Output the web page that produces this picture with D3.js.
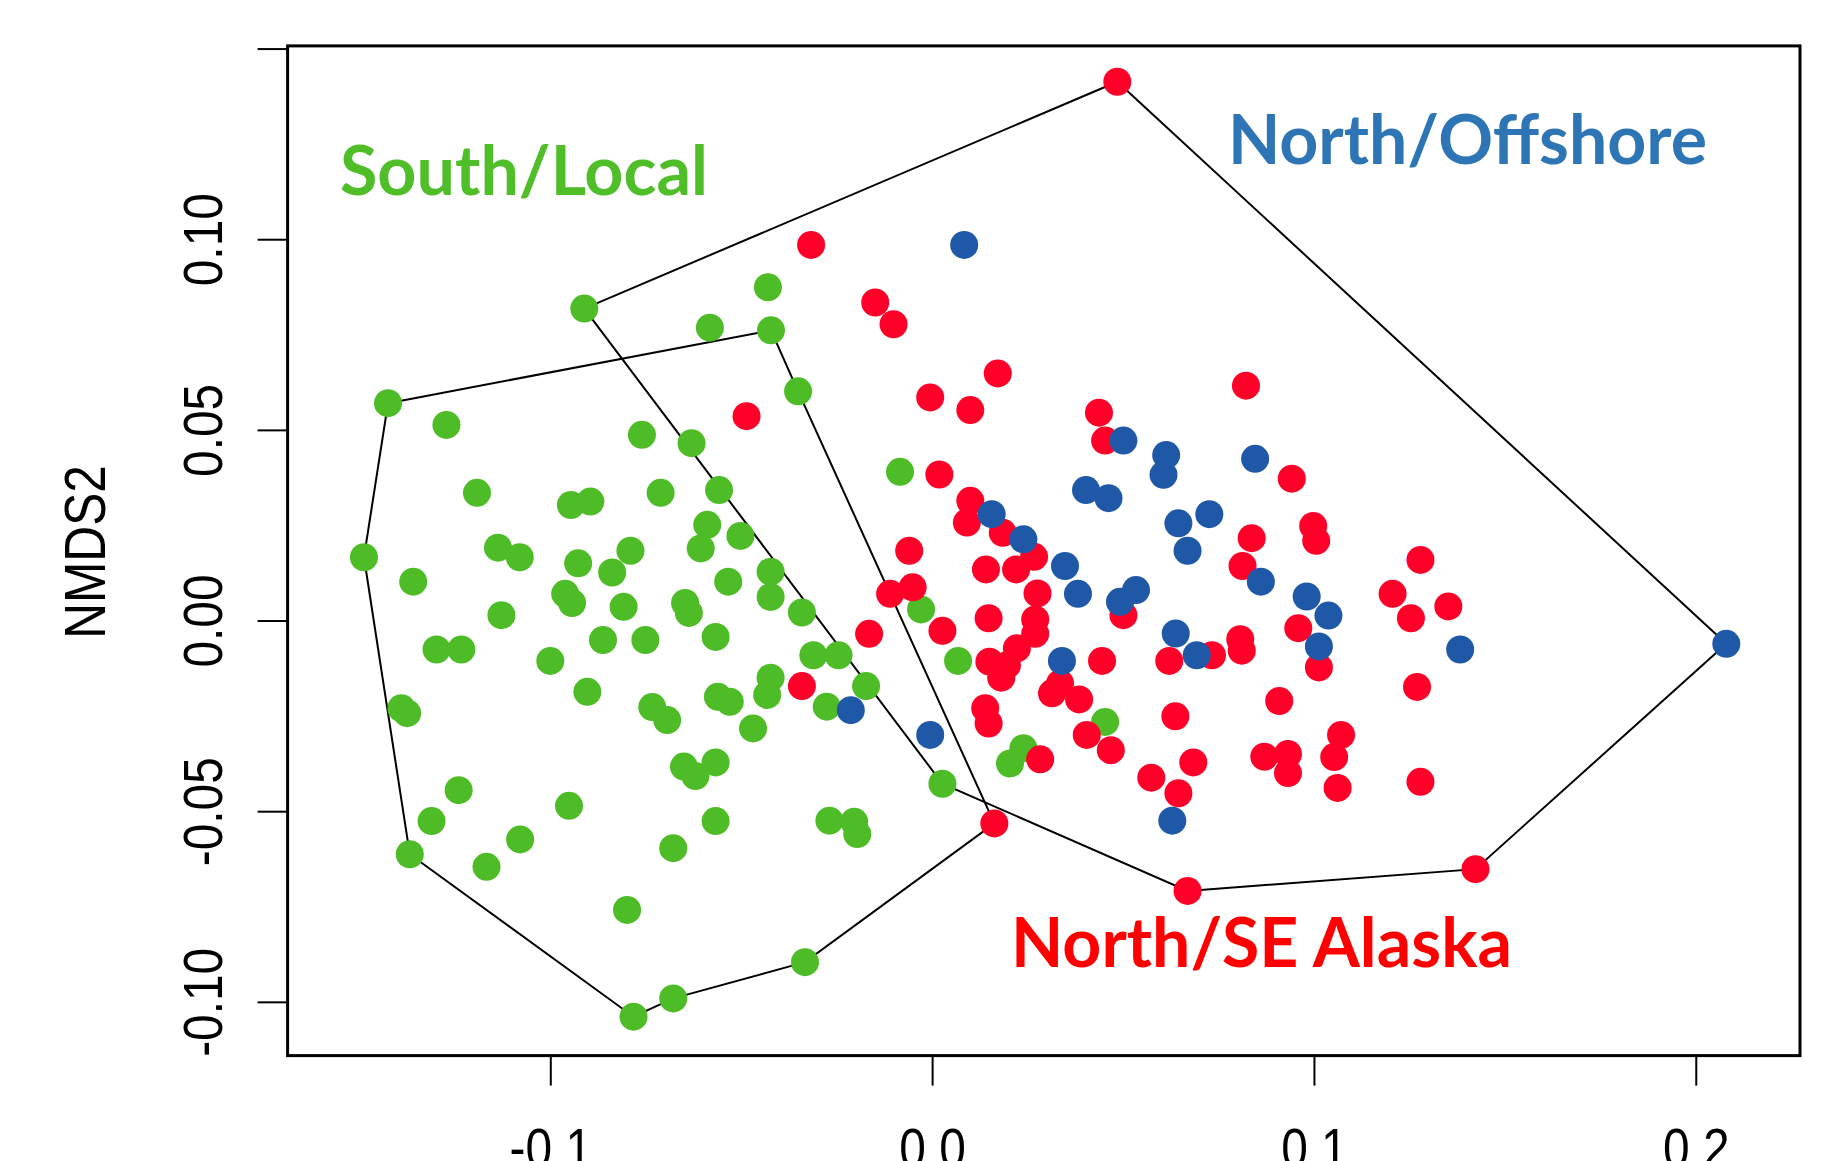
<!DOCTYPE html>
<html>
<head>
<meta charset="utf-8">
<script src="https://cdn.jsdelivr.net/npm/d3@7"></script>
<style>
  html, body { margin: 0; padding: 0; background: #fff; overflow: hidden; }
  svg { display: block; }
</style>
</head>
<body>
<svg id="chart" width="1845" height="1161"></svg>
<script>
// NMDS ordination scores (NMDS1, NMDS2) for each sample, by region
const southLocalX = [-0.0430,-0.0911,-0.0582,-0.0422,-0.1425,-0.0351,-0.1272,-0.0760,-0.0630,-0.1192,
  -0.0946,-0.0895,-0.0711,-0.0558,-0.0589,-0.0502,-0.0606,-0.1137,-0.1080,-0.1488,
  -0.0927,-0.0790,-0.0838,-0.0423,-0.0534,-0.1359,-0.0423,-0.0961,-0.0943,-0.0808,
  -0.0647,-0.0637,-0.1128,-0.0341,-0.0862,-0.0751,-0.0567,-0.1298,-0.1233,-0.1000,
  -0.0903,-0.0561,-0.0530,-0.0423,-0.0432,-0.1390,-0.1375,-0.0733,-0.0694,-0.0469,
  -0.1240,-0.0951,-0.1311,-0.0650,-0.0620,-0.0567,-0.0567,-0.1079,-0.1368,-0.0678,
  -0.1167,-0.0799,-0.0678,-0.0782,-0.0333,-0.0084,-0.0029,-0.0311,-0.0245,0.0068,
  -0.0173,-0.0276,0.0453,0.0204,0.0239,0.0027,-0.0269,-0.0204,-0.0196];
const southLocalY = [0.0874,0.0818,0.0768,0.0761,0.0570,0.0601,0.0513,0.0487,0.0465,0.0335,
  0.0303,0.0312,0.0335,0.0342,0.0251,0.0222,0.0189,0.0191,0.0166,0.0166,
  0.0150,0.0183,0.0126,0.0128,0.0102,0.0102,0.0062,0.0070,0.0046,0.0036,
  0.0046,0.0020,0.0014,0.0021,-0.0051,-0.0051,-0.0043,-0.0076,-0.0076,-0.0106,
  -0.0187,-0.0200,-0.0213,-0.0150,-0.0195,-0.0230,-0.0243,-0.0227,-0.0261,-0.0283,
  -0.0445,-0.0486,-0.0526,-0.0383,-0.0408,-0.0372,-0.0526,-0.0574,-0.0613,-0.0597,
  -0.0646,-0.0759,-0.0991,-0.1039,-0.0896,0.0390,0.0029,-0.0091,-0.0091,-0.0106,
  -0.0172,-0.0226,-0.0266,-0.0375,-0.0335,-0.0428,-0.0525,-0.0528,-0.0560];

const seAlaskaX = [0.0485,-0.0317,-0.0149,-0.0101,0.0172,-0.0005,0.0100,0.0822,-0.0486,0.0437,
  0.0453,0.0942,0.0019,0.0100,0.0091,0.0185,0.0267,0.0837,-0.0060,0.0141,
  0.0220,0.0813,-0.0110,-0.0051,0.0276,0.0501,0.0148,0.0027,0.0270,0.0270,
  -0.0165,0.0222,0.0150,0.0196,0.0181,0.0445,0.0621,0.0733,0.0807,0.0811,
  0.0959,-0.0341,0.0335,0.0314,0.0385,0.0139,0.0148,0.0637,0.0909,0.0405,
  0.0468,0.0283,0.0574,0.0684,0.0645,0.0870,0.0932,0.0932,0.0163,0.0669,
  0.0998,0.1006,0.1279,0.1206,0.1352,0.1254,0.1013,0.1270,0.1071,0.1053,
  0.1062,0.1279,0.1423];
const seAlaskaY = [0.1413,0.0985,0.0834,0.0777,0.0648,0.0585,0.0552,0.0616,0.0536,0.0545,
  0.0472,0.0372,0.0383,0.0314,0.0257,0.0230,0.0167,0.0216,0.0183,0.0134,
  0.0134,0.0143,0.0070,0.0087,0.0071,0.0014,0.0006,-0.0027,0.0003,-0.0035,
  -0.0035,-0.0073,-0.0108,-0.0117,-0.0150,-0.0106,-0.0106,-0.0091,-0.0049,-0.0079,
  -0.0020,-0.0172,-0.0165,-0.0191,-0.0207,-0.0230,-0.0270,-0.0251,-0.0211,-0.0300,
  -0.0340,-0.0364,-0.0412,-0.0372,-0.0453,-0.0357,-0.0350,-0.0400,-0.0532,-0.0709,
  0.0248,0.0209,0.0159,0.0070,0.0037,0.0006,-0.0123,-0.0174,-0.0300,-0.0358,
  -0.0439,-0.0423,-0.0652];

const offshoreX = [0.0084,0.0501,0.0613,0.0606,0.0846,0.0403,0.0462,0.0156,0.0239,0.0645,
  0.0726,0.0669,0.0348,0.0861,0.0981,0.0382,0.0534,0.0492,0.0340,0.0693,
  0.0638,-0.0213,-0.0005,0.0629,0.1038,0.1013,0.1383,0.2080];
const offshoreY = [0.0985,0.0472,0.0434,0.0382,0.0424,0.0342,0.0321,0.0279,0.0213,0.0255,
  0.0279,0.0183,0.0143,0.0102,0.0063,0.0070,0.0080,0.0049,-0.0106,-0.0091,
  -0.0034,-0.0235,-0.0300,-0.0525,0.0013,-0.0068,-0.0076,-0.0061];

// Convex hull outlines (vertex coordinates, in drawing order)
const hullNorthX = [-0.0911, 0.0485, 0.2080, 0.1423, 0.0669, 0.0027];
const hullNorthY = [ 0.0818, 0.1413, -0.0061, -0.0652, -0.0709, -0.0428];
const hullSouthX = [-0.1425, -0.0422, -0.0351, 0.0163, -0.0333, -0.0678, -0.0782, -0.1368, -0.1488];
const hullSouthY = [ 0.0570, 0.0761, 0.0601, -0.0532, -0.0896, -0.0991, -0.1039, -0.0613, 0.0166];

const xTicks = [-0.1, 0.0, 0.1, 0.2];
const yTicks = [0.15, 0.10, 0.05, 0.00, -0.05, -0.10];
const yLabelled = [0.10, 0.05, 0.00, -0.05, -0.10];

const regions = [
  { name: "South/Local",     xs: southLocalX, ys: southLocalY, dot: "#4dbc27", text: "#4fbe29" },
  { name: "North/SE Alaska", xs: seAlaskaX,   ys: seAlaskaY,   dot: "#ff0028", text: "#ff0000" },
  { name: "North/Offshore",  xs: offshoreX,   ys: offshoreY,   dot: "#2058a8", text: "#2e75b6" }
];

const svg = d3.select("#chart");
const plotLeft = 287.6, plotTop = 45.9, plotRight = 1800, plotBottom = 1055.6;

const x = d3.scaleLinear().domain([-0.1688, 0.2273]).range([plotLeft, plotRight]);
const y = d3.scaleLinear().domain([-0.1141, 0.1507]).range([plotBottom, plotTop]);

const axisFont = "'Liberation Sans', Arial, Helvetica, sans-serif";

// Hull outlines
const hullLine = d3.line().x(d => x(d[0])).y(d => y(d[1])).curve(d3.curveLinearClosed);
[[hullNorthX, hullNorthY], [hullSouthX, hullSouthY]].forEach(([hx, hy]) => {
  svg.append("path")
    .datum(hx.map((v, i) => [v, hy[i]]))
    .attr("d", hullLine)
    .attr("fill", "none")
    .attr("stroke", "#000")
    .attr("stroke-width", 2);
});

// Sample points
regions.forEach(r => {
  svg.append("g").selectAll("circle")
    .data(r.xs.map((v, i) => [v, r.ys[i]]))
    .join("circle")
    .attr("cx", d => x(d[0]))
    .attr("cy", d => y(d[1]))
    .attr("r", 14)
    .attr("fill", r.dot);
});

// Plot frame
svg.append("rect")
  .attr("x", plotLeft).attr("y", plotTop)
  .attr("width", plotRight - plotLeft).attr("height", plotBottom - plotTop)
  .attr("fill", "none").attr("stroke", "#000").attr("stroke-width", 3);

// X axis
const gx = svg.append("g").attr("transform", `translate(0,${plotBottom})`)
  .call(d3.axisBottom(x).tickValues(xTicks).tickSize(30).tickSizeOuter(0)
    .tickFormat(d => d.toFixed(1)));
gx.select(".domain").remove();
gx.selectAll(".tick line").attr("stroke", "#000").attr("stroke-width", 2);
gx.selectAll(".tick text")
  .attr("y", 111).attr("dy", null)
  .attr("transform", "scale(0.87,1)")
  .attr("font-family", axisFont).attr("font-size", 55).attr("fill", "#000");

// Y axis
const gy = svg.append("g").attr("transform", `translate(${plotLeft},0)`)
  .call(d3.axisLeft(y).tickValues(yTicks).tickSize(30).tickSizeOuter(0)
    .tickFormat(d => yLabelled.some(v => Math.abs(v - d) < 1e-9) ? d.toFixed(2) : ""));
gy.select(".domain").remove();
gy.selectAll(".tick line").attr("stroke", "#000").attr("stroke-width", 2);
gy.selectAll(".tick text")
  .attr("x", null).attr("dy", null)
  .attr("text-anchor", "middle")
  .attr("transform", "translate(-66,0) rotate(-90) scale(0.87,1)")
  .attr("font-family", axisFont).attr("font-size", 55).attr("fill", "#000");

// Y axis title
svg.append("text")
  .attr("transform", "translate(105,552) rotate(-90) scale(0.87,1)")
  .attr("text-anchor", "middle")
  .attr("font-family", axisFont).attr("font-size", 57).attr("fill", "#000")
  .text("NMDS2");

// Region labels
const labelFont = "Lato, 'Open Sans', 'Noto Sans', sans-serif";
const labels = [
  { region: regions[0], x: 340, y: 195, w: 368 },
  { region: regions[2], x: 1228, y: 164, w: 479 },
  { region: regions[1], x: 1011, y: 967, w: 501 }
];
labels.forEach(l => {
  svg.append("text")
    .attr("x", l.x).attr("y", l.y)
    .attr("textLength", l.w).attr("lengthAdjust", "spacingAndGlyphs")
    .attr("font-family", labelFont).attr("font-weight", 700).attr("font-size", 68)
    .attr("fill", l.region.text)
    .text(l.region.name);
});
</script>
</body>
</html>
